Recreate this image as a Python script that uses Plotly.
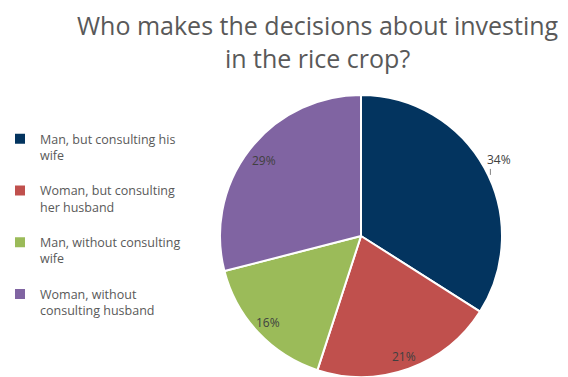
import math
import plotly.graph_objects as go

categories = [
    "Man, but consulting his<br>wife",
    "Woman, but consulting<br>her husband",
    "Man, without consulting<br>wife",
    "Woman, without<br>consulting husband",
]
values = [34, 21, 16, 29]
colors = ["#03345F", "#C0504D", "#9BBB59", "#8064A2"]
label_radius = [1.12, 0.91, 0.90, 0.87]  # fraction of pie radius for each label

W, H = 568, 377
# pie geometry in pixels
cx, cy, r = 361, 236, 141

fig = go.Figure(
    go.Pie(
        labels=[c + "<br> " for c in categories],
        values=values,
        sort=False,
        direction="clockwise",
        rotation=0,
        marker=dict(colors=colors, line=dict(color="white", width=2)),
        textinfo="none",
        domain=dict(x=[(cx - r) / W, (cx + r) / W],
                    y=[max(0, 1 - (cy + r) / H), min(1, 1 - (cy - r) / H)]),
        hoverinfo="label+percent",
    )
)

# percentage labels placed from the data (mid-angle of each slice)
total = sum(values)
cum = 0
for v, fr in zip(values, label_radius):
    mid = (cum + v / 2) / total * 2 * math.pi
    cum += v
    px = cx + fr * r * math.sin(mid)
    py = cy - fr * r * math.cos(mid)
    fig.add_annotation(
        x=px / W, y=1 - py / H, xref="paper", yref="paper",
        xanchor="center", yanchor="middle",
        text=f"{round(100 * v / total)}%", showarrow=False,
        font=dict(family="Open Sans", size=12, color="#404040"),
    )
    if fr > 1:
        # short leader line under the outside label
        fig.add_shape(
            type="line", xref="paper", yref="paper",
            x0=(px - 9) / W, x1=(px - 9) / W,
            y0=1 - (py + 9) / H, y1=1 - (py + 15) / H,
            line=dict(color="#808080", width=1),
        )

fig.add_annotation(
    text="Who makes the decisions about investing<br>in the rice crop?",
    x=318 / W, xref="paper", xanchor="center",
    y=1 - 6 / H, yref="paper", yanchor="top",
    showarrow=False, align="center",
    font=dict(family="Open Sans", size=25, color="#595959"),
)

fig.update_layout(
    width=W,
    height=H,
    margin=dict(l=0, r=0, t=0, b=0),
    paper_bgcolor="white",
    plot_bgcolor="white",
    legend=dict(
        x=0,
        xanchor="left",
        y=1 - 124 / H,
        yanchor="top",
        valign="top",
        font=dict(family="Open Sans", size=12.5, color="#595959"),
        bgcolor="rgba(0,0,0,0)",
    ),
    showlegend=True,
)

fig.write_html(
    "out.html",
    config={"displayModeBar": False},
    post_script="document.body.style.margin='0';document.body.style.overflow='hidden';",
)
